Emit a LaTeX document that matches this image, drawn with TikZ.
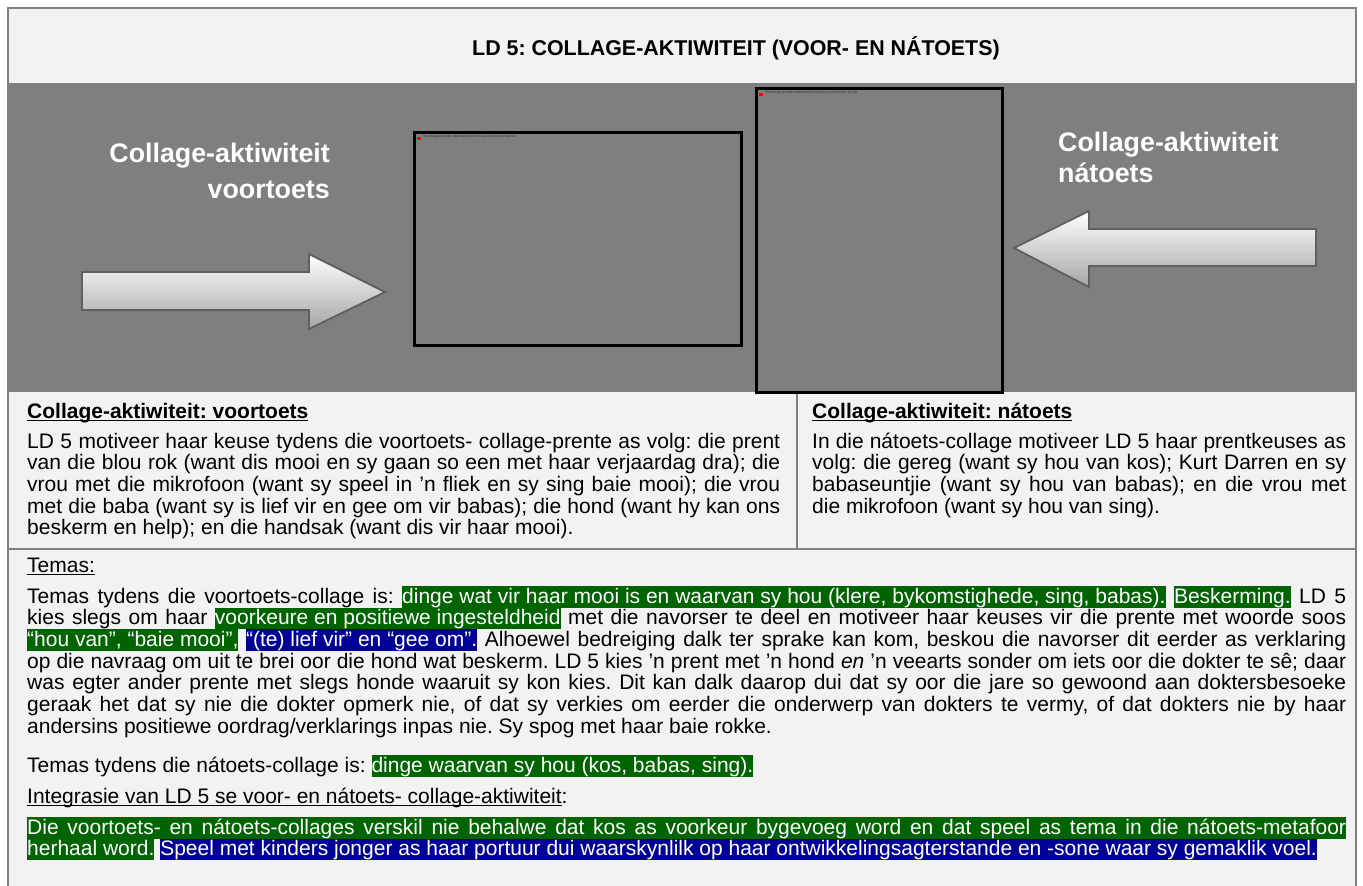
\documentclass[tikz,border=0pt]{standalone}
\usepackage{fontspec}
\setmainfont{Liberation Sans}
\frenchspacing
\definecolor{panelgray}{RGB}{127,127,127}
\definecolor{lightbg}{RGB}{242,242,242}
\definecolor{rulegray}{RGB}{128,128,128}
\definecolor{hlgreen}{RGB}{0,100,0}
\definecolor{hlblue}{RGB}{0,0,150}
\definecolor{arrowedge}{RGB}{95,95,95}
\newcommand\bodyfont{\fontsize{21}{21.7}\selectfont\frenchspacing}
\newcommand\hlstrut{\rule[-4.6pt]{0pt}{21.7pt}}
\newcommand\hlg[1]{{\setlength\fboxsep{0pt}\colorbox{hlgreen}{\color{white}\hlstrut#1}}}
\newcommand\hlb[1]{{\setlength\fboxsep{0pt}\colorbox{hlblue}{\color{white}\hlstrut#1}}}
\newcommand\jline[2]{\makebox[#1pt][s]{#2}}
% underline drawn as a rule under the measured text
\newcommand\uln[1]{{\setbox0=\hbox{#1}\leavevmode\rlap{\rule[-3.4pt]{\wd0}{1.4pt}}\box0}}
\tikzset{
  txt/.style={anchor=base west, inner sep=0pt, font=\bodyfont},
  bigwhite/.style={inner sep=0pt, text=white, font=\fontsize{26.8}{30}\selectfont\bfseries},
  fadearrow/.style={draw=arrowedge, line width=1.8pt, line join=miter,
    top color=white, bottom color={rgb,255:red,165;green,165;blue,165}},
  picframe/.style={draw=black, line width=2.6pt, fill=panelgray},
  missing/.style={anchor=west, inner sep=0pt, text={rgb,255:red,40;green,40;blue,40},
    font=\fontsize{3.2}{4}\selectfont},
  cellrule/.style={draw=rulegray, line width=1.6pt}
}
\begin{document}
\begin{tikzpicture}[x=1pt,y=-1pt]
\useasboundingbox (0,0) rectangle (1363,886);
% backgrounds
\fill[white] (0,0) rectangle (1363,886);
\fill[lightbg] (8,8) rectangle (1356,886);
\fill[panelgray] (8,83) rectangle (1356,392);
% table rules
\draw[cellrule] (8,886) -- (8,8) -- (1356,8) -- (1356,886);
\draw[cellrule] (8,549) -- (1356,549);
\draw[cellrule] (797,392) -- (797,549);

% title
\node[anchor=base west, inner sep=0pt, font=\fontsize{21.4}{24}\selectfont\bfseries\frenchspacing] (title) at (472,55.6)
  {LD 5: COLLAGE-AKTIWITEIT (VOOR- EN NÁTOETS)};

% labels in the grey panel
\node[bigwhite, anchor=base east] (lblpre1) at (330,162) {Collage-aktiwiteit};
\node[bigwhite, anchor=base east] (lblpre2) at (330,198) {voortoets};
\node[bigwhite, anchor=base west] (lblpost1) at (1058,151) {Collage-aktiwiteit};
\node[bigwhite, anchor=base west] (lblpost2) at (1058,182) {nátoets};

% block arrows
\path[fadearrow] (82,272) -- (309,272) -- (309,254) -- (385,292) -- (309,329)
  -- (309,310) -- (82,310) -- cycle;
\path[fadearrow] (1316,229) -- (1089,229) -- (1089,211) -- (1014,248) -- (1089,287)
  -- (1089,266) -- (1316,266) -- cycle;

% picture frames with missing image parts
\node[picframe, minimum width=327pt, minimum height=213pt, anchor=north west, inner sep=0pt]
  (picpre) at (413,131) {};
\fill[red] (417,136.5) rectangle (420.5,140);
\node[missing] (picpretxt) at (423,137) {The image part with relationship ID rId33 was not found in the file.};
\node[picframe, minimum width=246pt, minimum height=304pt, anchor=north west, inner sep=0pt]
  (picpost) at (755,87) {};
\fill[red] (759,92.5) rectangle (762.5,96);
\node[missing] (picposttxt) at (765,93) {The image part with relationship ID rId34 was not found in the file.};

% left column
\node[txt] (hpre) at (27,418) {\bfseries\uln{Collage-aktiwiteit: voortoets}};
\node[txt] (l1) at (27,448) {\jline{753}{LD 5 motiveer haar keuse tydens die voortoets- collage-prente as volg: die prent}};
\node[txt] (l2) at (27,469.7) {\jline{753}{van die blou rok (want dis mooi en sy gaan so een met haar verjaardag dra); die}};
\node[txt] (l3) at (27,491.4) {\jline{753}{vrou met die mikrofoon (want sy speel in ’n fliek en sy sing baie mooi); die vrou}};
\node[txt] (l4) at (27,513.1) {\jline{753}{met die baba (want sy is lief vir en gee om vir babas); die hond (want hy kan ons}};
\node[txt] (l5) at (27,534.8) {beskerm en help); en die handsak (want dis vir haar mooi).};

% right column
\node[txt] (hpost) at (812,418) {\bfseries\uln{Collage-aktiwiteit: nátoets}};
\node[txt] (r1) at (812,448) {\jline{534}{In die nátoets-collage motiveer LD 5 haar prentkeuses as}};
\node[txt] (r2) at (812,469.7) {\jline{534}{volg: die gereg (want sy hou van kos); Kurt Darren en sy}};
\node[txt] (r3) at (812,491.4) {\jline{534}{babaseuntjie (want sy hou van babas); en die vrou met}};
\node[txt] (r4) at (812,513.1) {die mikrofoon (want sy hou van sing).};

% themes
\node[txt] (themes) at (27,572) {\uln{Temas:}};
\node[txt] (b1) at (27,603) {\jline{1319}{Temas tydens die voortoets-collage is: \hlg{dinge wat vir haar mooi is en waarvan sy hou (klere, bykomstighede, sing, babas).} \hlg{Beskerming.} LD 5}};
\node[txt] (b2) at (27,624.7) {\jline{1319}{kies slegs om haar \hlg{voorkeure en positiewe ingesteldheid} met die navorser te deel en motiveer haar keuses vir die prente met woorde soos}};
\node[txt] (b3) at (27,646.4) {\jline{1319}{\hlg{“hou van”, “baie mooi”,} \hlb{“(te) lief vir” en “gee om”.} Alhoewel bedreiging dalk ter sprake kan kom, beskou die navorser dit eerder as verklaring}};
\node[txt] (b4) at (27,668.1) {\jline{1319}{op die navraag om uit te brei oor die hond wat beskerm. LD 5 kies ’n prent met ’n hond \textit{en} ’n veearts sonder om iets oor die dokter te sê; daar}};
\node[txt] (b5) at (27,689.8) {\jline{1319}{was egter ander prente met slegs honde waaruit sy kon kies. Dit kan dalk daarop dui dat sy oor die jare so gewoond aan doktersbesoeke}};
\node[txt] (b6) at (27,711.5) {\jline{1319}{geraak het dat sy nie die dokter opmerk nie, of dat sy verkies om eerder die onderwerp van dokters te vermy, of dat dokters nie by haar}};
\node[txt] (b7) at (27,733.2) {andersins positiewe oordrag/verklarings inpas nie. Sy spog met haar baie rokke.};
\node[txt] (c1) at (27,772) {Temas tydens die nátoets-collage is: \hlg{dinge waarvan sy hou (kos, babas, sing).}};
\node[txt] (c2) at (27,803) {\uln{Integrasie van LD 5 se voor- en nátoets- collage-aktiwiteit}:};
\node[txt] (d1) at (27,834) {\hlg{\jline{1319}{Die voortoets- en nátoets-collages verskil nie behalwe dat kos as voorkeur bygevoeg word en dat speel as tema in die nátoets-metafoor}}};
\node[txt] (d2) at (27,855.7) {\hlg{herhaal word.} \hlb{Speel met kinders jonger as haar portuur dui waarskynlilk op haar ontwikkelingsagterstande en -sone waar sy gemaklik voel.}};
\end{tikzpicture}
\end{document}
